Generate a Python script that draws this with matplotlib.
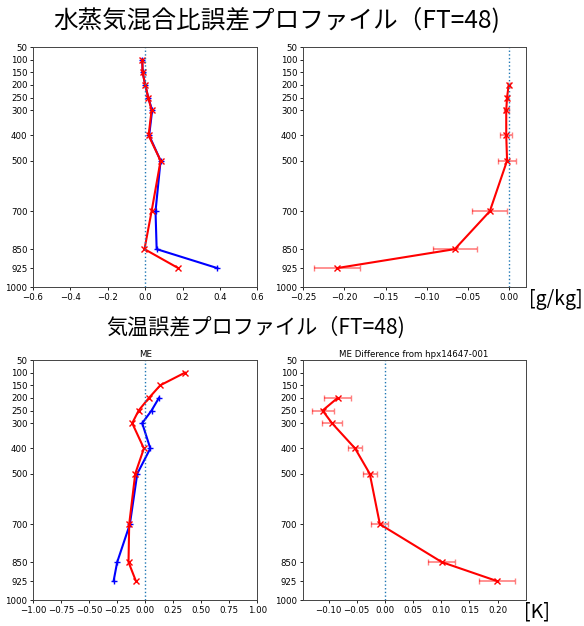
import matplotlib
matplotlib.use('Agg')
import matplotlib.pyplot as plt

# pressure levels (hPa)
plev = [100, 150, 200, 250, 300, 400, 500, 700, 850, 925]
plev_diff = [200, 250, 300, 400, 500, 700, 850, 925]
yticks = [50, 100, 150, 200, 250, 300, 400, 500, 700, 850, 925, 1000]

# 水蒸気混合比 ME [g/kg]
q_me_blue = [-0.016, -0.014, 0.0, 0.016, 0.037, 0.021, 0.082, 0.055, 0.061, 0.385]
q_me_red = [-0.016, -0.014, 0.0, 0.016, 0.034, 0.018, 0.082, 0.034, -0.004, 0.176]
# 水蒸気混合比 ME difference
q_diff = [0.0, -0.002, -0.003, -0.003, -0.002, -0.023, -0.0656, -0.209]
q_diff_err = [0.001, 0.001, 0.003, 0.007, 0.0105, 0.0215, 0.0267, 0.028]

# 気温 ME [K]
t_plev_blue = [200, 250, 300, 400, 500, 700, 850, 925]
t_me_blue = [0.122, 0.056, -0.027, 0.045, -0.071, -0.137, -0.25, -0.282]
t_me_red = [0.354, 0.134, 0.033, -0.059, -0.116, -0.012, -0.089, -0.143, -0.149, -0.083]
# 気温 ME difference
t_diff = [-0.084, -0.1107, -0.094, -0.053, -0.027, -0.009, 0.101, 0.199]
t_diff_err = [0.0245, 0.0195, 0.0175, 0.012, 0.0125, 0.015, 0.024, 0.0325]

jp = ['Noto Sans CJK JP', 'DejaVu Sans']
fs = 6.2

fig = plt.figure(figsize=(5.84, 6.26), dpi=100)


def setup(ax, xlim, xticks=None):
    ax.set_ylim(1000, 50)
    ax.set_yticks(yticks)
    ax.set_xlim(*xlim)
    if xticks is not None:
        ax.set_xticks(xticks)
    ax.axvline(0, color='tab:blue', linestyle=':', linewidth=1)
    ax.tick_params(labelsize=fs, length=2.5, width=0.6, pad=1.5)
    for s in ax.spines.values():
        s.set_linewidth(0.7)
        s.set_color('#444444')


def me_panel(ax, yb, xb, yr, xr):
    ax.plot(xb, yb, color='blue', marker='+', markersize=5, linewidth=1.5)
    ax.plot(xr, yr, color='red', marker='x', markersize=4, linewidth=1.5)


def diff_panel(ax, y, x, err):
    ax.errorbar(x, y, xerr=err, fmt='none', ecolor='red', alpha=0.5,
                capsize=2, elinewidth=1.2)
    ax.plot(x, y, color='red', marker='x', markersize=4, linewidth=1.5)


# 上段: 水蒸気混合比
ax1 = fig.add_axes([0.0565, 0.5415, 0.3844, 0.3834])
me_panel(ax1, plev, q_me_blue, plev, q_me_red)
setup(ax1, (-0.6, 0.6), [-0.6, -0.4, -0.2, 0.0, 0.2, 0.4, 0.6])

ax2 = fig.add_axes([0.5188, 0.5415, 0.3818, 0.3834])
diff_panel(ax2, plev_diff, q_diff, q_diff_err)
setup(ax2, (-0.2505, 0.021), [-0.25, -0.20, -0.15, -0.10, -0.05, 0.0])
ax2.set_xticklabels(['−0.25', '−0.20', '−0.15', '−0.10', '−0.05', '0.00'])

# 下段: 気温
ax3 = fig.add_axes([0.0565, 0.0415, 0.3844, 0.3834])
me_panel(ax3, t_plev_blue, t_me_blue, plev, t_me_red)
setup(ax3, (-1.0, 1.0), [-1.0, -0.75, -0.5, -0.25, 0.0, 0.25, 0.5, 0.75, 1.0])
ax3.set_xticklabels(['−1.00', '−0.75', '−0.50', '−0.25', '0.00', '0.25', '0.50', '0.75', '1.00'])
ax3.set_title('ME', fontsize=fs, pad=2)

ax4 = fig.add_axes([0.5183, 0.0415, 0.3818, 0.3834])
diff_panel(ax4, plev_diff, t_diff, t_diff_err)
setup(ax4, (-0.146, 0.2497), [-0.10, -0.05, 0.0, 0.05, 0.10, 0.15, 0.20])
ax4.set_xticklabels(['−0.10', '−0.05', '0.00', '0.05', '0.10', '0.15', '0.20'])
ax4.set_title('ME Difference from hpx14647-001', fontsize=fs, pad=2)

fig.text(0.474, 0.968, '水蒸気混合比誤差プロファイル（FT=48)', ha='center', va='center',
         fontsize=17.7, family=jp)
fig.text(0.437, 0.476, '気温誤差プロファイル（FT=48)', ha='center', va='center',
         fontsize=15.2, family=jp)
fig.text(0.952, 0.521, '[g/kg]', ha='center', va='center', fontsize=14, family=jp)
fig.text(0.920, 0.022, '[K]', ha='center', va='center', fontsize=14, family=jp)

fig.savefig('out.png', dpi=100)
